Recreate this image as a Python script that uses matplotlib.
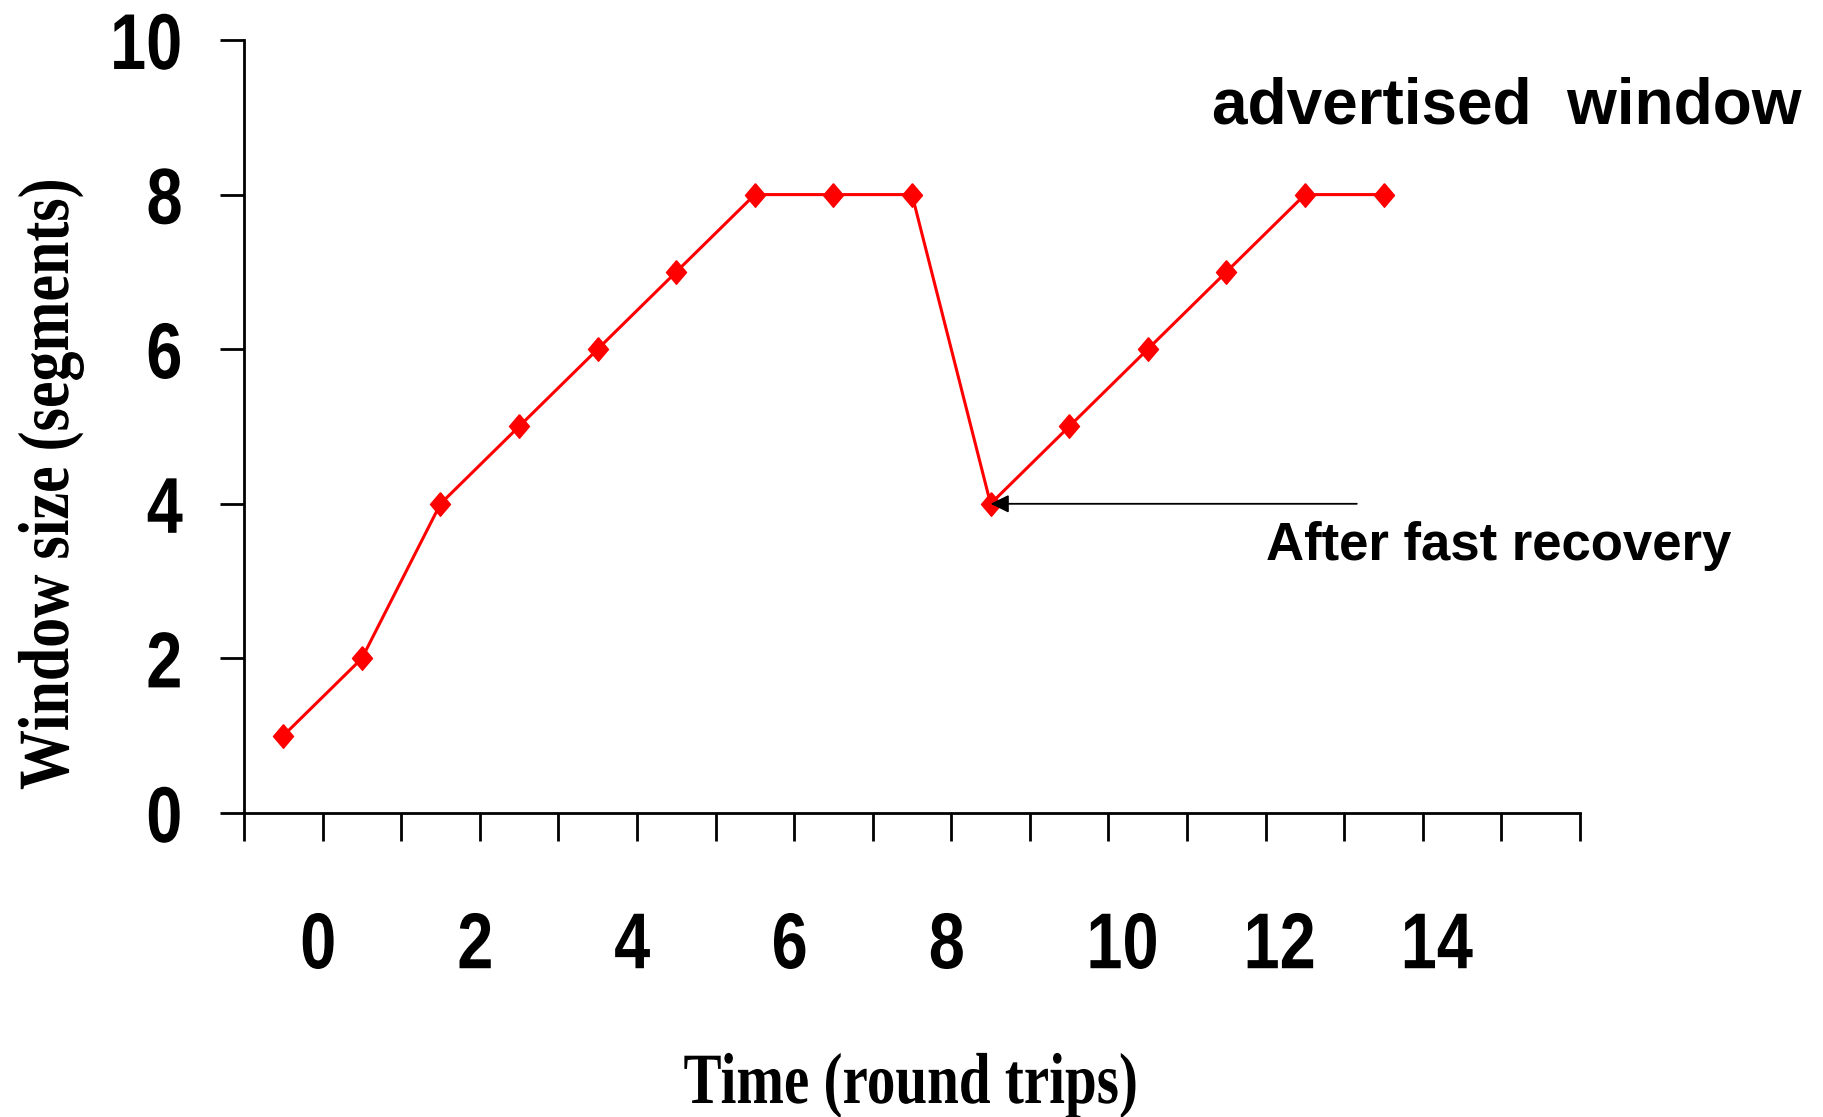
import matplotlib
matplotlib.use('Agg')
import matplotlib.pyplot as plt
import numpy as np
from matplotlib import font_manager
from matplotlib.font_manager import FontProperties
from matplotlib.transforms import Affine2D, ScaledTranslation
import matplotlib.patheffects as pe

# data
rounds = list(range(15))
window = [1, 2, 4, 5, 6, 7, 8, 8, 8, 4, 5, 6, 7, 8, 8]
n_slots = 17
xtick_labels = ['0', '2', '4', '6', '8', '10', '12', '14']
ytick_values = [0, 2, 4, 6, 8, 10]
recovery_round = 9


class Condense(pe.AbstractPathEffect):
    # squeeze glyphs along the text direction, like a condensed font
    def __init__(self, sx, anchor='center'):
        super().__init__()
        self.sx = sx
        self.anchor = anchor

    def draw_path(self, renderer, gc, tpath, affine, rgbFace=None):
        ext = tpath.get_extents()
        if self.anchor == 'left':
            cx = ext.x0
        elif self.anchor == 'right':
            cx = ext.x1
        else:
            cx = (ext.x0 + ext.x1) / 2
        a = Affine2D().translate(-cx, 0).scale(self.sx, 1).translate(cx, 0) + affine
        renderer.draw_path(gc, tpath, a, rgbFace)


# narrow sans for the tick numbers if installed, otherwise squeeze Liberation Sans
try:
    font_manager.findfont(FontProperties(family='Liberation Sans Narrow', weight='bold'),
                          fallback_to_default=False)
    tick_font, tick_sx = 'Liberation Sans Narrow', 1.0
except ValueError:
    tick_font, tick_sx = 'Liberation Sans', 0.82

W, H = 1824, 1117
fig = plt.figure(figsize=(W / 100, H / 100), dpi=100)
ax = fig.add_axes([244 / W, 1 - 813 / H, 1336 / W, 773 / H])

red = '#ff0000'
diamond = [(0, 1), (0.85, 0), (0, -1), (-0.85, 0), (0, 1)]
ax.plot(rounds, window, color=red, lw=2.2, marker=diamond, markersize=17,
        markerfacecolor=red, markeredgecolor=red, clip_on=False, zorder=3)

ax.set_xlim(-0.5, n_slots - 0.5)
ax.set_ylim(0, 10)

for s in ['top', 'right']:
    ax.spines[s].set_visible(False)
for s in ['left', 'bottom']:
    ax.spines[s].set_linewidth(2)

# y ticks
ax.set_yticks(ytick_values, [str(v) for v in ytick_values])
ax.tick_params(axis='y', direction='out', length=17, width=2, pad=27)

# x ticks at slot boundaries, numbers every other boundary
bounds = np.arange(n_slots + 1) - 0.5
labels = []
for k in range(len(bounds)):
    if k % 2 == 1 and k // 2 < len(xtick_labels):
        labels.append(xtick_labels[k // 2])
    else:
        labels.append('')
ax.set_xticks(bounds, labels)
ax.tick_params(axis='x', direction='out', length=20, width=2, pad=50)

for lab in ax.get_yticklabels():
    lab.set_path_effects([Condense(tick_sx, 'right')])
for lab in ax.get_xticklabels():
    lab.set_path_effects([Condense(tick_sx, 'left')])
for lab in ax.get_yticklabels() + ax.get_xticklabels():
    lab.set_fontfamily(tick_font)
    lab.set_fontweight('bold')
    lab.set_fontsize(57)

shift = ScaledTranslation(-23 / 100, 0, fig.dpi_scale_trans)
for lab in ax.get_xticklabels():
    lab.set_horizontalalignment('left')
    lab.set_transform(lab.get_transform() + shift)

# arrow to the fast recovery point, drawn over the marker
ax.annotate('', xy=(recovery_round, window[recovery_round]),
            xytext=(13.66, window[recovery_round]),
            arrowprops=dict(arrowstyle='-|>,head_length=0.55,head_width=0.27',
                            mutation_scale=20, color='black', lw=1.3,
                            shrinkA=0, shrinkB=0),
            zorder=5)

fig.text(1266 / W, 1 - 560 / H, 'After fast recovery', fontsize=38,
         fontweight='bold', family='Liberation Sans', ha='left', va='baseline')
fig.text(1212 / W, 1 - 123 / H, 'advertised  window', fontsize=46,
         fontweight='bold', family='Liberation Sans', ha='left', va='baseline')

# axis titles: condensed bold serif
fig.text(911 / W, 1 - 1103 / H, 'Time (round trips)', fontsize=52,
         fontweight='bold', family='Liberation Serif', ha='center', va='baseline',
         path_effects=[Condense(0.79)])
fig.text(68 / W, 1 - 484 / H, 'Window size (segments)', fontsize=52,
         fontweight='bold', family='Liberation Serif', rotation=90,
         rotation_mode='anchor', ha='center', va='baseline',
         path_effects=[Condense(0.83)])

fig.savefig('out.png', dpi=100, facecolor='white')
